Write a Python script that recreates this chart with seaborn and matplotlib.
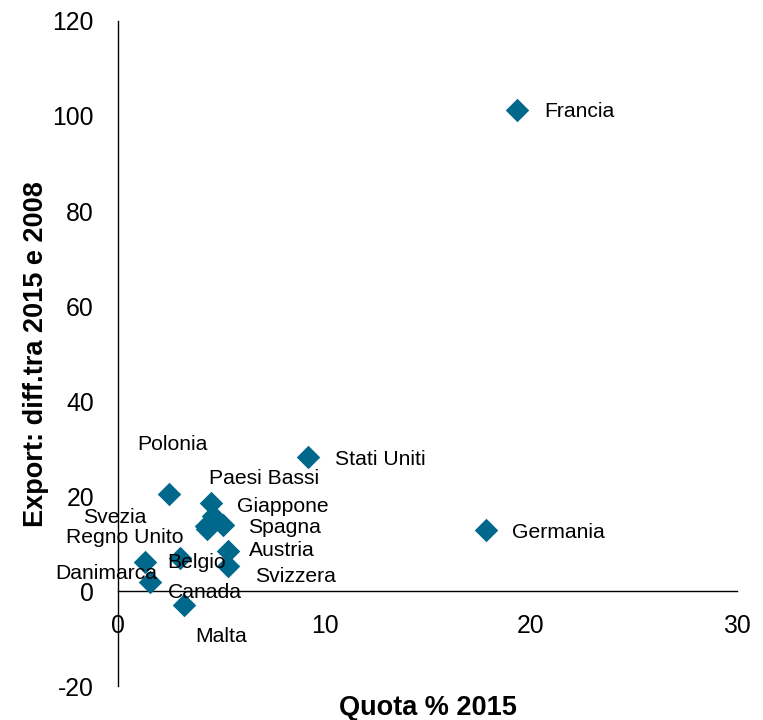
import matplotlib
matplotlib.use('Agg')
import matplotlib.pyplot as plt
import seaborn as sns
import pandas as pd

# ---- data ----
countries = ['Francia', 'Stati Uniti', 'Germania', 'Polonia', 'Giappone',
             'Paesi Bassi', 'Spagna', 'Svezia', 'Regno Unito', 'Austria',
             'Svizzera', 'Belgio', 'Danimarca', 'Canada', 'Malta']
quota_2015 = [19.32, 9.22, 17.82, 2.44, 4.51,
              4.58, 5.06, 4.26, 4.30, 5.31,
              5.31, 3.00, 1.31, 1.54, 3.17]
export_diff = [101.2, 28.3, 12.9, 20.4, 18.5,
               15.8, 14.0, 13.7, 13.2, 8.4,
               5.3, 7.0, 6.1, 1.9, -2.8]

x_ticks = [0, 10, 20, 30]
y_ticks = [-20, 0, 20, 40, 60, 80, 100, 120]
x_title = 'Quota % 2015'
y_title = 'Export: diff.tra 2015 e 2008'

# label placement (pixel offsets of text left/baseline from the marker)
label_offsets = {
    'Francia': (27.6, -6.4), 'Stati Uniti': (26.6, -8.2), 'Germania': (26.5, -8.3),
    'Polonia': (-30.9, 44.3), 'Giappone': (26.0, -8.3), 'Paesi Bassi': (-3.4, 32.2),
    'Spagna': (25.7, -7.9), 'Svezia': (-122.8, 3.5), 'Regno Unito': (-141.0, -14.1),
    'Austria': (21.5, -4.6), 'Svizzera': (27.2, -16.2), 'Belgio': (-12.5, -9.7),
    'Danimarca': (-89.6, -16.7), 'Canada': (17.6, -15.4), 'Malta': (12.0, -37.1),
}

sns.set_style('white')
plt.rcParams['font.family'] = ['Liberation Sans', 'DejaVu Sans']
plt.rcParams['text.color'] = 'black'
plt.rcParams['axes.labelcolor'] = 'black'

fig = plt.figure(figsize=(7.63, 7.2), dpi=100)
ax = fig.add_axes([0.1550, 0.0467, 0.8109, 0.9243])

df = pd.DataFrame({'paese': countries, 'quota': quota_2015, 'export': export_diff})
sns.scatterplot(data=df, x='quota', y='export', marker='D', s=143,
                color='#00688B', linewidth=0, ax=ax, legend=False, zorder=3)

for name, xv, yv in zip(countries, quota_2015, export_diff):
    dx, dy = label_offsets[name]
    ax.annotate(name, (xv, yv), xytext=(dx, dy), textcoords='offset pixels',
                ha='left', va='baseline', fontsize=15.2, color='black', zorder=4)

ax.set_xlim(0, 30)
ax.set_ylim(-20, 120)
ax.set_xticks(x_ticks)
ax.set_yticks(y_ticks)
ax.set_xticklabels([str(v) for v in x_ticks])
ax.set_yticklabels([str(v) for v in y_ticks])

for s in ['top', 'right']:
    ax.spines[s].set_visible(False)
ax.spines['bottom'].set_position(('data', 0))
for s in ['left', 'bottom']:
    ax.spines[s].set_color('black')
    ax.spines[s].set_linewidth(1.0)
    ax.spines[s].set_zorder(2)

ax.tick_params(axis='both', which='major', direction='out', length=5.8,
               width=0.9, color='#666666', labelsize=17.8, labelcolor='black')
ax.tick_params(axis='y', pad=11.7)
ax.tick_params(axis='x', pad=10.5)

ax.set_xlabel(x_title, fontsize=19.5, fontweight='bold', color='black')
ax.set_ylabel(y_title, fontsize=19.5, fontweight='bold', color='black')
ax.xaxis.set_label_coords(0.5, -0.0135)
ax.yaxis.set_label_coords(-0.112, 0.5)
ax.grid(False)

fig.savefig('out.png', dpi=100)
